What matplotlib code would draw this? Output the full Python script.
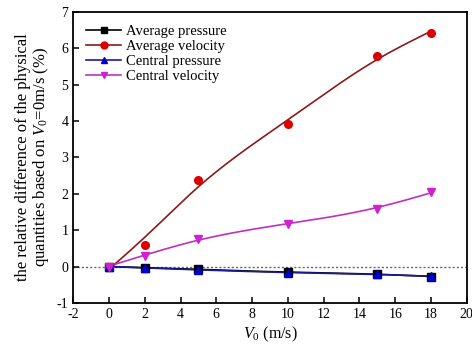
import numpy as np
import matplotlib
matplotlib.use("Agg")
from matplotlib import pyplot as plt

plt.rcParams['font.family'] = ['Liberation Serif', 'DejaVu Serif']
plt.rcParams['mathtext.fontset'] = 'custom'
plt.rcParams['mathtext.it'] = 'Liberation Serif:italic'
plt.rcParams['mathtext.rm'] = 'Liberation Serif'
plt.rcParams['axes.unicode_minus'] = False

v0 = [0, 2, 5, 10, 15, 18]
avg_pressure = [0.0, -0.03, -0.08, -0.16, -0.20, -0.28]
avg_velocity = [0.0, 0.59, 2.39, 3.93, 5.80, 6.41]
central_pressure = [0.0, -0.04, -0.09, -0.17, -0.21, -0.27]
central_velocity = [0.0, 0.30, 0.77, 1.18, 1.57, 2.06]


def smooth(x, y, lam=6.0, step=0.1):
    # penalised least squares on a fine grid (a smoothing spline)
    x = np.asarray(x, float)
    y = np.asarray(y, float)
    xs = np.arange(x[0], x[-1] + step / 2, step)
    n = len(xs)
    S = np.zeros((len(x), n))
    S[np.arange(len(x)), np.rint((x - x[0]) / step).astype(int)] = 1
    D = np.diff(np.eye(n), 2, axis=0) / step ** 2
    f = np.linalg.solve(S.T @ S + lam * step * D.T @ D, S.T @ y)
    return xs, f


fig = plt.figure(figsize=(4.72, 3.51), dpi=100)
ax = fig.add_axes([0.155, 0.137, 0.834, 0.829])

ax.axhline(0, color='#666666', ls=(0, (1.5, 1.5)), lw=1.0, zorder=1)

series = [
    ('Average pressure', avg_pressure, 'black', 'black', 's'),
    ('Average velocity', avg_velocity, '#8b1a1a', '#dd0000', 'o'),
    ('Central pressure', central_pressure, '#1a1a99', '#0000cc', '^'),
    ('Central velocity', central_velocity, '#c030c0', '#d020d0', 'v'),
]

for label, y, lc, mc, mk in series:
    xs, ys = smooth(v0, y)
    ax.plot(xs, ys, color=lc, lw=1.2, zorder=2)
    ax.plot(v0, y, ls='none', marker=mk, color=mc, ms=5.5, zorder=3)
    ax.plot([], [], color=lc, lw=1.2, marker=mk, mfc=mc, mec=mc, ms=5, label=label)

ax.set_xlim(-2, 20)
ax.set_ylim(-1, 7)
ax.set_xticks(range(-2, 21, 2))
ax.set_yticks(range(-1, 8))
for s in ax.spines.values():
    s.set_linewidth(1.3)
ax.tick_params(direction='in', length=4, width=1.1, labelsize=10, top=False, right=False)
ax.set_xlabel('$V_0$ (m/s)', fontsize=11.5, labelpad=3)
ax.set_ylabel('the relative difference of the physical\nquantities based on $V_0$=0m/s (%)',
              fontsize=12, labelpad=4, linespacing=1.0)

ax.legend(loc='upper left', frameon=False, fontsize=10.5, handlelength=2.4,
          handletextpad=0.3, labelspacing=0.12, borderaxespad=0.5)

fig.savefig('out.png', dpi=100)
